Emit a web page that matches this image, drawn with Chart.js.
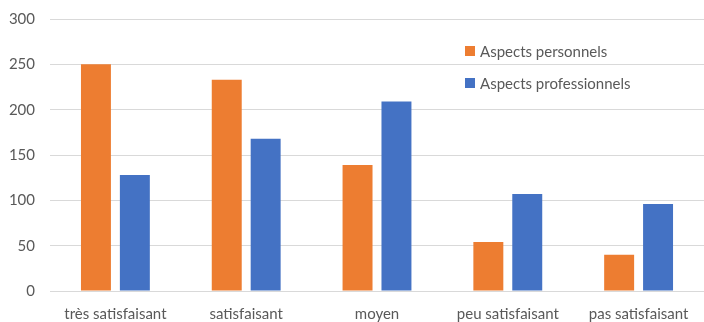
<!DOCTYPE html>
<html>
<head>
<meta charset="utf-8">
<script src="https://cdn.jsdelivr.net/npm/chart.js@4/dist/chart.umd.min.js"></script>
<style>
  html, body { margin: 0; padding: 0; background: #fff; }
  #wrap { position: relative; width: 704px; height: 322px; }
  #legend { position: absolute; left: 465px; top: 41px; font-family: Lato, sans-serif; font-size: 15px; color: #595959; }
  #legend .item { display: flex; align-items: center; height: 20px; margin-bottom: 12px; }
  #legend .sw { width: 10px; height: 10px; margin-right: 5px; }
</style>
</head>
<body>
<div id="wrap">
  <canvas id="c" width="704" height="322"></canvas>
  <div id="legend"></div>
</div>
<script>
const categories = ["très satisfaisant", "satisfaisant", "moyen", "peu satisfaisant", "pas satisfaisant"];
const seriesNames = ["Aspects personnels", "Aspects professionnels"];
const personnels = [250, 233, 139, 54, 40];
const professionnels = [128, 168, 209, 107, 96];
const yTicks = [0, 50, 100, 150, 200, 250, 300];
const colors = ["#ED7D31", "#4472C4"];

const chart = new Chart(document.getElementById('c'), {
  type: 'bar',
  data: {
    labels: categories,
    datasets: [
      { label: seriesNames[0], data: personnels, backgroundColor: colors[0], categoryPercentage: 0.595, barPercentage: 0.77 },
      { label: seriesNames[1], data: professionnels, backgroundColor: colors[1], categoryPercentage: 0.595, barPercentage: 0.77 }
    ]
  },
  options: {
    responsive: false,
    animation: false,
    layout: { padding: { top: 19, right: 0, bottom: 0, left: 0 } },
    plugins: { legend: { display: false }, tooltip: { enabled: false } },
    scales: {
      x: {
        afterFit: (s) => { s.height = 31; s.paddingLeft = 0; s.paddingRight = 0; },
        grid: { display: false, drawTicks: false },
        border: { color: '#d9d9d9' },
        ticks: { color: '#595959', font: { family: 'Lato', size: 15 }, padding: 14, maxRotation: 0 }
      },
      y: {
        min: 0, max: 300,
        afterFit: (s) => { s.width = 50; s.paddingTop = 0; s.paddingBottom = 0; },
        afterBuildTicks: (s) => { s.ticks = yTicks.map(v => ({ value: v })); },
        grid: { color: '#d9d9d9', drawTicks: false },
        border: { display: false },
        ticks: { color: '#595959', font: { family: 'Lato', size: 15 }, padding: 15 }
      }
    }
  }
});

const leg = document.getElementById('legend');
chart.data.datasets.forEach(ds => {
  const it = document.createElement('div');
  it.className = 'item';
  const sw = document.createElement('span');
  sw.className = 'sw';
  sw.style.background = ds.backgroundColor;
  const tx = document.createElement('span');
  tx.textContent = ds.label;
  it.appendChild(sw); it.appendChild(tx);
  leg.appendChild(it);
});
</script>
</body>
</html>
